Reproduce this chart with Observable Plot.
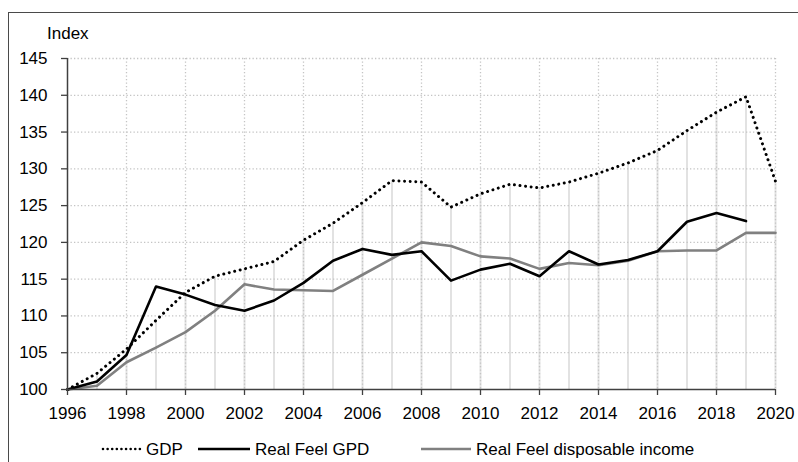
<!DOCTYPE html>
<html>
<head>
<meta charset="utf-8">
<script src="https://cdn.jsdelivr.net/npm/d3@7"></script>
<script src="https://cdn.jsdelivr.net/npm/@observablehq/plot@0.6"></script>
<style>
  html, body { margin: 0; padding: 0; background: #fff; }
  #wrap { position: relative; width: 798px; height: 462px; overflow: hidden; font-family: "Liberation Sans", Arial, sans-serif; }
  #frame { position: absolute; left: 8px; top: 12px; width: 900px; height: 600px; border-left: 1.5px solid #4a4a4a; border-top: 1.5px solid #4a4a4a; }
  #chart { position: absolute; left: 0; top: 0; }
  #ylab { position: absolute; left: 47px; top: 25px; font-size: 17px; line-height: 17px; color: #000; }
  #legend { position: absolute; left: 0; top: 430px; }
</style>
</head>
<body>
<div id="wrap">
  <div id="frame"></div>
  <div id="chart"></div>
  <div id="ylab">Index</div>
  <div id="legend"></div>
</div>
<script>
const years = [1996, 1997, 1998, 1999, 2000, 2001, 2002, 2003, 2004, 2005, 2006, 2007, 2008, 2009, 2010, 2011, 2012, 2013, 2014, 2015, 2016, 2017, 2018, 2019, 2020];
const gdp = [100, 102.2, 105.5, 109.4, 113.2, 115.4, 116.4, 117.4, 120.3, 122.6, 125.4, 128.4, 128.2, 124.8, 126.6, 127.9, 127.4, 128.2, 129.4, 130.8, 132.5, 135.2, 137.7, 139.8, 128.3];
const realFeelGdp = [100, 101.1, 104.7, 114.0, 112.9, 111.5, 110.7, 112.1, 114.5, 117.5, 119.1, 118.3, 118.8, 114.8, 116.3, 117.1, 115.4, 118.8, 117.0, 117.6, 118.8, 122.8, 124.0, 122.9, null];
const realFeelIncome = [100, 100.5, 103.7, 105.7, 107.8, 110.7, 114.3, 113.6, 113.5, 113.4, 115.6, 117.8, 120.0, 119.5, 118.1, 117.8, 116.4, 117.2, 116.9, 117.5, 118.8, 118.9, 118.9, 121.3, 121.3];
const xTicks = [1996, 1998, 2000, 2002, 2004, 2006, 2008, 2010, 2012, 2014, 2016, 2018, 2020];
const yTicks = [100, 105, 110, 115, 120, 125, 130, 135, 140, 145];
const seriesNames = ["GDP", "Real Feel GPD", "Real Feel disposable income"];

const rows = years.map((year, i) => ({year, gdp: gdp[i], real: realFeelGdp[i], inc: realFeelIncome[i]}));

const fontStack = "'Liberation Sans', Arial, sans-serif";
const gridStyle = {stroke: "#c4c4c4", strokeOpacity: 1, strokeWidth: 1.3, strokeDasharray: "1.3,2.2"};
const dotDash = "0.01,5.6";

const chart = Plot.plot({
  width: 798,
  height: 430,
  marginLeft: 67,
  marginRight: 23,
  marginTop: 58,
  marginBottom: 41,
  style: {fontFamily: fontStack, fontSize: "17px", color: "#000", background: "transparent", overflow: "visible"},
  x: {domain: [1996, 2020], label: null},
  y: {domain: [100, 145], label: null},
  marks: [
    Plot.ruleX(rows, {x: "year", y1: 100, y2: "gdp", stroke: "#e2e2e2", strokeWidth: 2}),
    Plot.gridY(yTicks.slice(1), gridStyle),
    Plot.gridX(xTicks.slice(1), gridStyle),
    Plot.line(rows, {x: "year", y: "inc", stroke: "#808080", strokeWidth: 2.6}),
    Plot.line(rows, {x: "year", y: "real", stroke: "#000", strokeWidth: 2.6}),
    Plot.line(rows, {x: "year", y: "gdp", stroke: "#000", strokeWidth: 3, strokeDasharray: dotDash, strokeLinecap: "round"}),
    Plot.axisX(xTicks, {tickFormat: d => String(d), tickSize: 6, tickPadding: 11, stroke: "#404040", strokeWidth: 1.3}),
    Plot.axisY(yTicks, {tickSize: 6, tickPadding: 14, stroke: "#404040", strokeWidth: 1.3}),
    Plot.ruleY([100], {stroke: "#404040", strokeWidth: 1.5}),
    Plot.ruleX([1996], {stroke: "#404040", strokeWidth: 1.5})
  ]
});
document.getElementById("chart").appendChild(chart);

// legend
const legendItems = [
  {name: seriesNames[0], stroke: "#000", dash: "0.01,4.6", cap: "round", x: 103, w: 38, sw: 2.6},
  {name: seriesNames[1], stroke: "#000", dash: null, cap: "butt", x: 198, w: 52, sw: 2.6},
  {name: seriesNames[2], stroke: "#808080", dash: null, cap: "butt", x: 421, w: 50, sw: 2.6}
];
const lsvg = d3.select("#legend").append("svg").attr("width", 798).attr("height", 32)
  .style("font-family", fontStack).style("font-size", "17px");
const g = lsvg.selectAll("g").data(legendItems).join("g");
g.append("line")
  .attr("x1", d => d.x).attr("x2", d => d.x + d.w).attr("y1", 19).attr("y2", 19)
  .attr("stroke", d => d.stroke).attr("stroke-width", d => d.sw)
  .attr("stroke-linecap", d => d.cap)
  .attr("stroke-dasharray", d => d.dash);
g.append("text")
  .attr("x", d => d.x + d.w + 5).attr("y", 25)
  .attr("fill", "#000")
  .text(d => d.name);
</script>
</body>
</html>
